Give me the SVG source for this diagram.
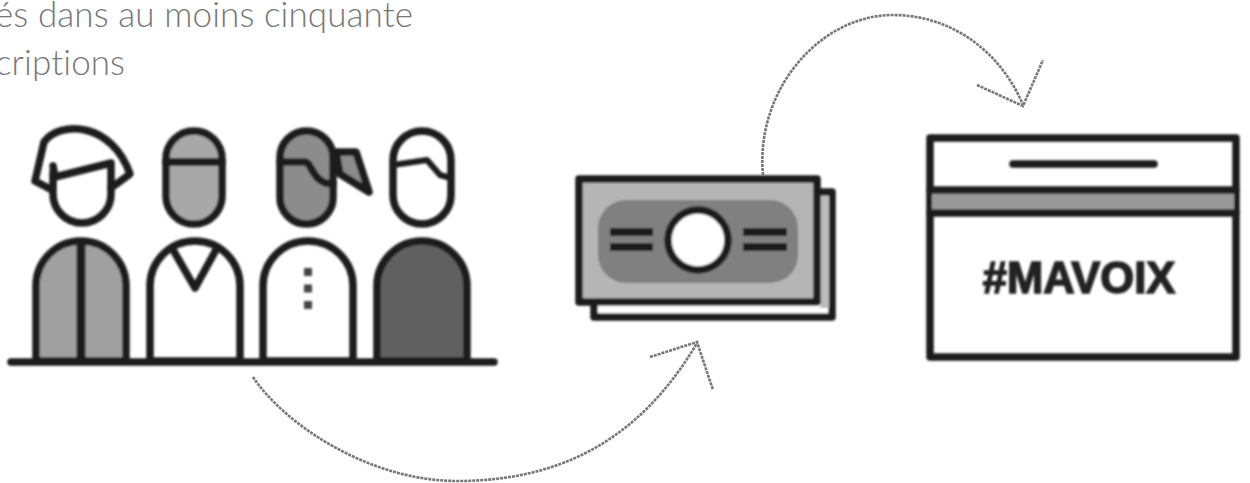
<svg xmlns="http://www.w3.org/2000/svg" width="1250" height="483" viewBox="0 0 1250 483">
<defs>
<filter id="b" x="-5%" y="-5%" width="110%" height="110%"><feGaussianBlur stdDeviation="1"/></filter>
<filter id="s" x="-5%" y="-5%" width="110%" height="110%"><feGaussianBlur stdDeviation="0.7"/></filter>
</defs>
<style>
.l{fill:none;stroke:#1c1c1c;stroke-width:7.5;stroke-linejoin:round;stroke-linecap:round}
.c{fill:none;stroke:#777;stroke-width:2.6;stroke-dasharray:3 1}
.t{font-family:"Lato","Liberation Sans",sans-serif;font-size:35px;font-weight:300;letter-spacing:0.1px;fill:#777}
</style>
<rect width="1250" height="483" fill="#fff"/>
<text class="t" x="-5" y="27">és dans au moins cinquante</text>
<text class="t" x="-5" y="75">criptions</text>
<g filter="url(#b)">
<g id="people">
<path class="l" d="M36 361V286a45 45 0 0 1 90 0V361Z" style="fill:#a0a0a0"/>
<path class="l" d="M81 242V361" style="stroke-width:9;stroke-linecap:butt"/>
<path class="l" d="M150 361V286a45 45 0 0 1 90 0V361Z"/>
<path class="l" d="M172 248L195 288L217 248"/>
<path class="l" d="M263 361V286a45 45 0 0 1 90 0V361Z"/>
<path d="M308 268V310" stroke="#444" stroke-width="8" stroke-dasharray="8 8.5" fill="none"/>
<path class="l" d="M377 361V286a45 45 0 0 1 90 0V361Z" style="fill:#606060"/>
<path class="l" d="M11 362H494"/>
<path class="l" d="M53 172V194a29 29 0 0 0 58 0V163L55 177L53 166"/>
<path class="l" d="M52 190L35 181L44 142C60 120 112 122 130 174L111 188"/>
<rect class="l" x="166" y="131" width="56" height="93" rx="28" style="fill:#a8a8a8"/>
<path class="l" d="M166 162H222" style="stroke-width:8"/>
<rect class="l" x="280" y="131" width="53" height="93" rx="26.5" style="fill:#8c8c8c"/>
<path class="l" d="M280 162H305C312 162 312 184 333 184"/>
<path class="l" d="M336 152H356L369 192L340 174Z" style="fill:#8c8c8c"/>
<rect class="l" x="393" y="131" width="58" height="93" rx="29"/>
<path class="l" d="M393 165L427 160L440 175L451 178" style="stroke-width:6"/>
</g>
<g id="money">
<path class="l" d="M817 192H832V317H594V302" style="fill:#fff"/>
<rect x="820" y="196" width="9" height="112" fill="#bbb"/>
<rect class="l" x="579" y="179" width="238" height="123" style="fill:#b5b5b5"/>
<rect x="598" y="200" width="200" height="83" rx="28" fill="#808080"/>
<circle class="l" cx="698" cy="240" r="30" style="fill:#fff"/>
<path class="l" d="M610 232H653M610 247H653M743 232H787M743 247H787" style="stroke-width:8;stroke-linecap:butt"/>
</g>
<g id="box">
<rect class="l" x="930" y="138" width="306" height="219"/>
<rect x="932" y="190" width="302" height="23" fill="#999"/>
<path class="l" d="M930 190H1236M930 213H1236"/>
<path class="l" d="M1013 164H1154"/>
<text x="1079" y="293" text-anchor="middle" font-family="'Liberation Sans',sans-serif" font-weight="700" font-size="43.5" fill="#222" stroke="#222" stroke-width="1.5">#MAVOIX</text>
</g>
</g>
<g id="connectors" filter="url(#s)">
<path class="c" d="M253 377C285 425 370 481 457 481C560 481 640 440 697 343"/>
<path class="c" d="M650 357L697 342L713 390"/>
<path class="c" d="M763 175C755 90 820 15 893 15C950 15 1000 50 1023 105"/>
<path class="c" d="M977 85L1023 106L1043 60"/>
</g>
</svg>
